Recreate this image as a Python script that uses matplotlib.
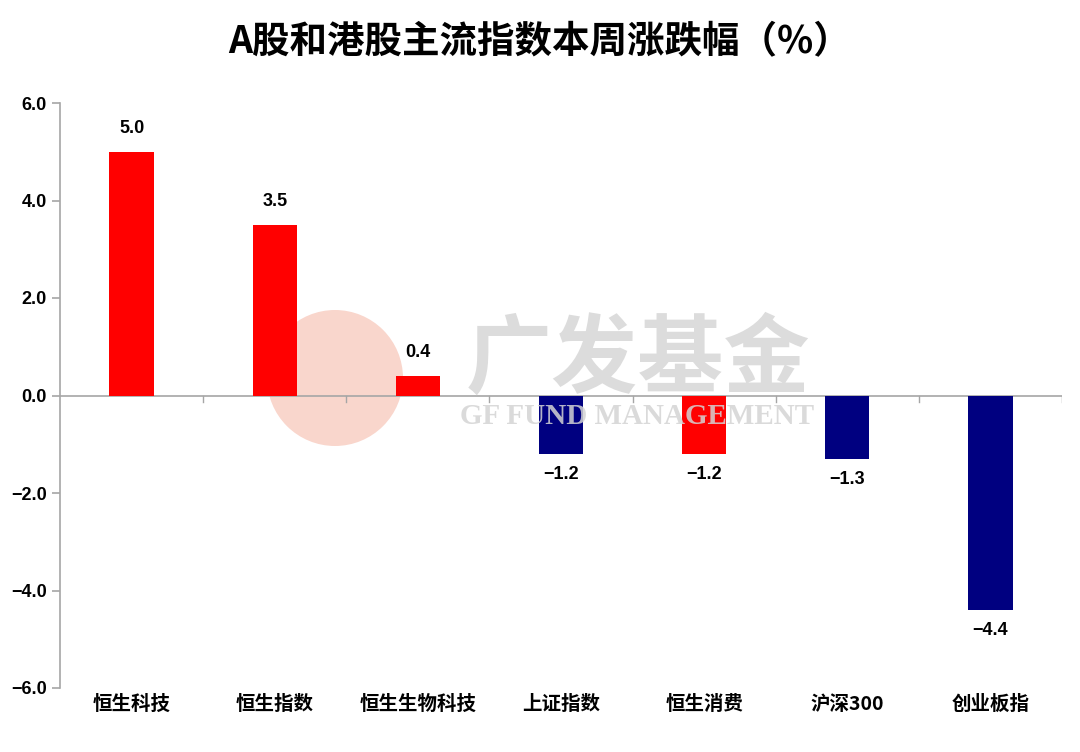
import matplotlib
matplotlib.use('Agg')
import matplotlib.pyplot as plt
from matplotlib.patches import Ellipse
from matplotlib.ticker import FuncFormatter

plt.rcParams['font.family'] = ['Liberation Sans', 'Noto Sans CJK SC', 'DejaVu Sans']
plt.rcParams['axes.unicode_minus'] = True

categories = ['恒生科技', '恒生指数', '恒生生物科技', '上证指数', '恒生消费', '沪深300', '创业板指']
values = [5.0, 3.5, 0.4, -1.2, -1.2, -1.3, -4.4]
is_hk = [True, True, True, False, True, False, False]
yticks = [-6.0, -4.0, -2.0, 0.0, 2.0, 4.0, 6.0]

red = '#ff0000'
navy = '#000080'
gray = '#a6a6a6'

fig = plt.figure(figsize=(10.8, 7.52), dpi=100)
ax = fig.add_axes([60 / 1080, 64 / 752, 1002 / 1080, 585 / 752])

# watermark: logo behind the bars, text on top
logo = Ellipse((335 / 1080, 1 - 378 / 752), 136 / 1080, 136 / 752, transform=fig.transFigure,
               facecolor='#f9d6cc', edgecolor='none', zorder=-1)
fig.patches.append(logo)
fig.text(638 / 1080, 1 - 360 / 752, '广发基金', fontsize=62, fontweight='bold',
         color='#dcdcdc', ha='center', va='center', family=['Noto Sans CJK SC'], zorder=5)
fig.text(637 / 1080, 1 - 416 / 752, 'GF FUND MANAGEMENT', fontsize=21, fontweight='bold',
         color='#d4d4d4', alpha=0.85, ha='center', va='center', family=['Liberation Serif'], zorder=5)
ax.patch.set_alpha(0)

x = list(range(len(categories)))
colors = [red if h else navy for h in is_hk]
bars = ax.bar(x, values, width=0.31, color=colors, zorder=3)

for xi, v in zip(x, values):
    lab = f'{v:.1f}'.replace('-', '\u2212')
    if v >= 0:
        ax.text(xi, v + 0.3, lab, ha='center', va='bottom', fontsize=13, fontweight='bold')
    else:
        ax.text(xi, v - 0.25, lab, ha='center', va='top', fontsize=13, fontweight='bold')

ax.set_xlim(-0.5, len(categories) - 0.5)
ax.set_ylim(-6, 6)
ax.set_yticks(yticks)
ax.yaxis.set_major_formatter(FuncFormatter(lambda v, p: f'{v:.1f}'.replace('-', '\u2212')))

for s in ['top', 'right', 'bottom']:
    ax.spines[s].set_visible(False)
ax.spines['left'].set_color(gray)
ax.spines['left'].set_linewidth(1.2)
ax.axhline(0, color=gray, linewidth=1.2, zorder=2)

# category boundary ticks on the zero line
for b in [i + 0.5 for i in range(len(categories))]:
    ax.plot([b, b], [0, -0.14], color=gray, linewidth=1.0, zorder=2)

ax.set_xticks(x)
ax.set_xticklabels(categories, fontsize=14, fontweight='bold', family=['Noto Sans CJK SC'])
ax.tick_params(axis='x', length=0, pad=5)
ax.tick_params(axis='y', colors=gray, labelcolor='black', labelsize=13, length=6, width=1.2)
for t in ax.get_yticklabels():
    t.set_fontweight('bold')

fig.text(0.5, 1 - 42 / 752, 'A股和港股主流指数本周涨跌幅（%）', fontsize=27, fontweight='bold',
         ha='center', va='center', family=['Noto Sans CJK SC', 'DejaVu Sans'])

fig.savefig('out.png', dpi=100)
